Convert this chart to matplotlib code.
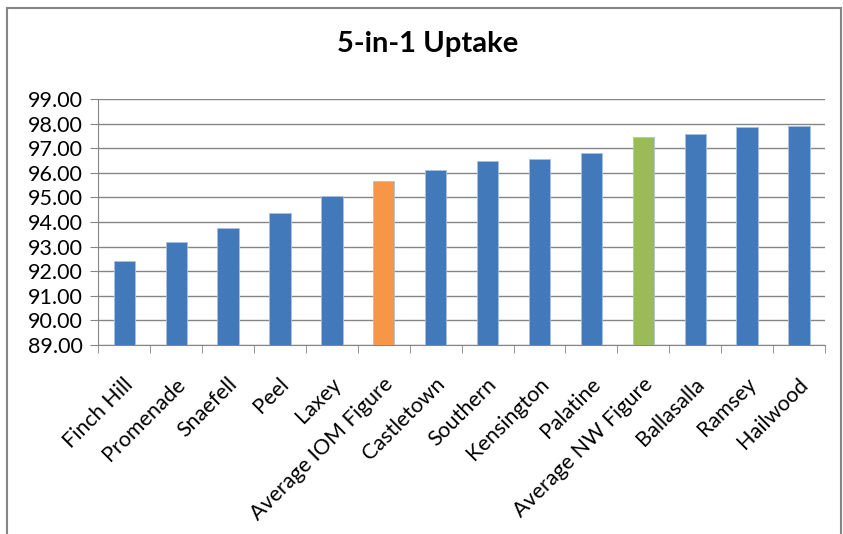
import matplotlib
matplotlib.use("Agg")
import matplotlib.pyplot as plt
from matplotlib.patches import Rectangle

plt.rcParams['font.family'] = ['Lato', 'DejaVu Sans']

areas = ["Finch Hill", "Promenade", "Snaefell", "Peel", "Laxey",
         "Average IOM Figure", "Castletown", "Southern", "Kensington",
         "Palatine", "Average NW Figure", "Ballasalla", "Ramsey", "Hailwood"]
uptake = [92.40, 93.17, 93.76, 94.37, 95.04, 95.67, 96.10, 96.47,
          96.57, 96.80, 97.47, 97.58, 97.85, 97.90]
colours = ["#4179BA"] * len(areas)
colours[5] = "#F79646"
colours[10] = "#9BBB59"

fig = plt.figure(figsize=(8.43, 5.34), dpi=100)
ax = fig.add_axes([0.1166, 0.354, 0.862, 0.4606])

x = range(len(areas))
ax.bar(x, uptake, width=0.41, color=colours, edgecolor="#A9C1E0",
       linewidth=0.6, zorder=3)

ax.set_ylim(89, 99)
ax.set_xlim(-0.5, len(areas) - 0.5)
ax.set_yticks(range(89, 100))
ax.set_yticklabels(["%.2f" % v for v in range(89, 100)], fontsize=15.5)
ax.yaxis.grid(True, color="#868686", linewidth=1.0, zorder=0)

# category labels at centres, tick marks between categories
ax.set_xticks([i - 0.02 for i in x])
ax.set_xticklabels(areas, rotation=45, ha="right", rotation_mode="anchor",
                   fontsize=15.5)
ax.tick_params(axis="x", length=0, pad=21)
ax.set_xticks([i - 0.5 for i in range(len(areas) + 1)], minor=True)
ax.tick_params(axis="x", which="minor", length=6, color="#868686")
ax.tick_params(axis="y", length=6, color="#868686", pad=5)

for s in ["top", "right"]:
    ax.spines[s].set_visible(False)
for s in ["left", "bottom"]:
    ax.spines[s].set_color("#868686")

fig.text(0.507, 0.918, "5-in-1 Uptake", ha="center", va="center",
         fontsize=21, fontweight="bold")

# chart border
fig.patches.append(Rectangle((0.008, -0.05), 0.99, 1.035,
                             transform=fig.transFigure, fill=False,
                             edgecolor="#868686", linewidth=1.5))

fig.savefig("out.png", dpi=100)
